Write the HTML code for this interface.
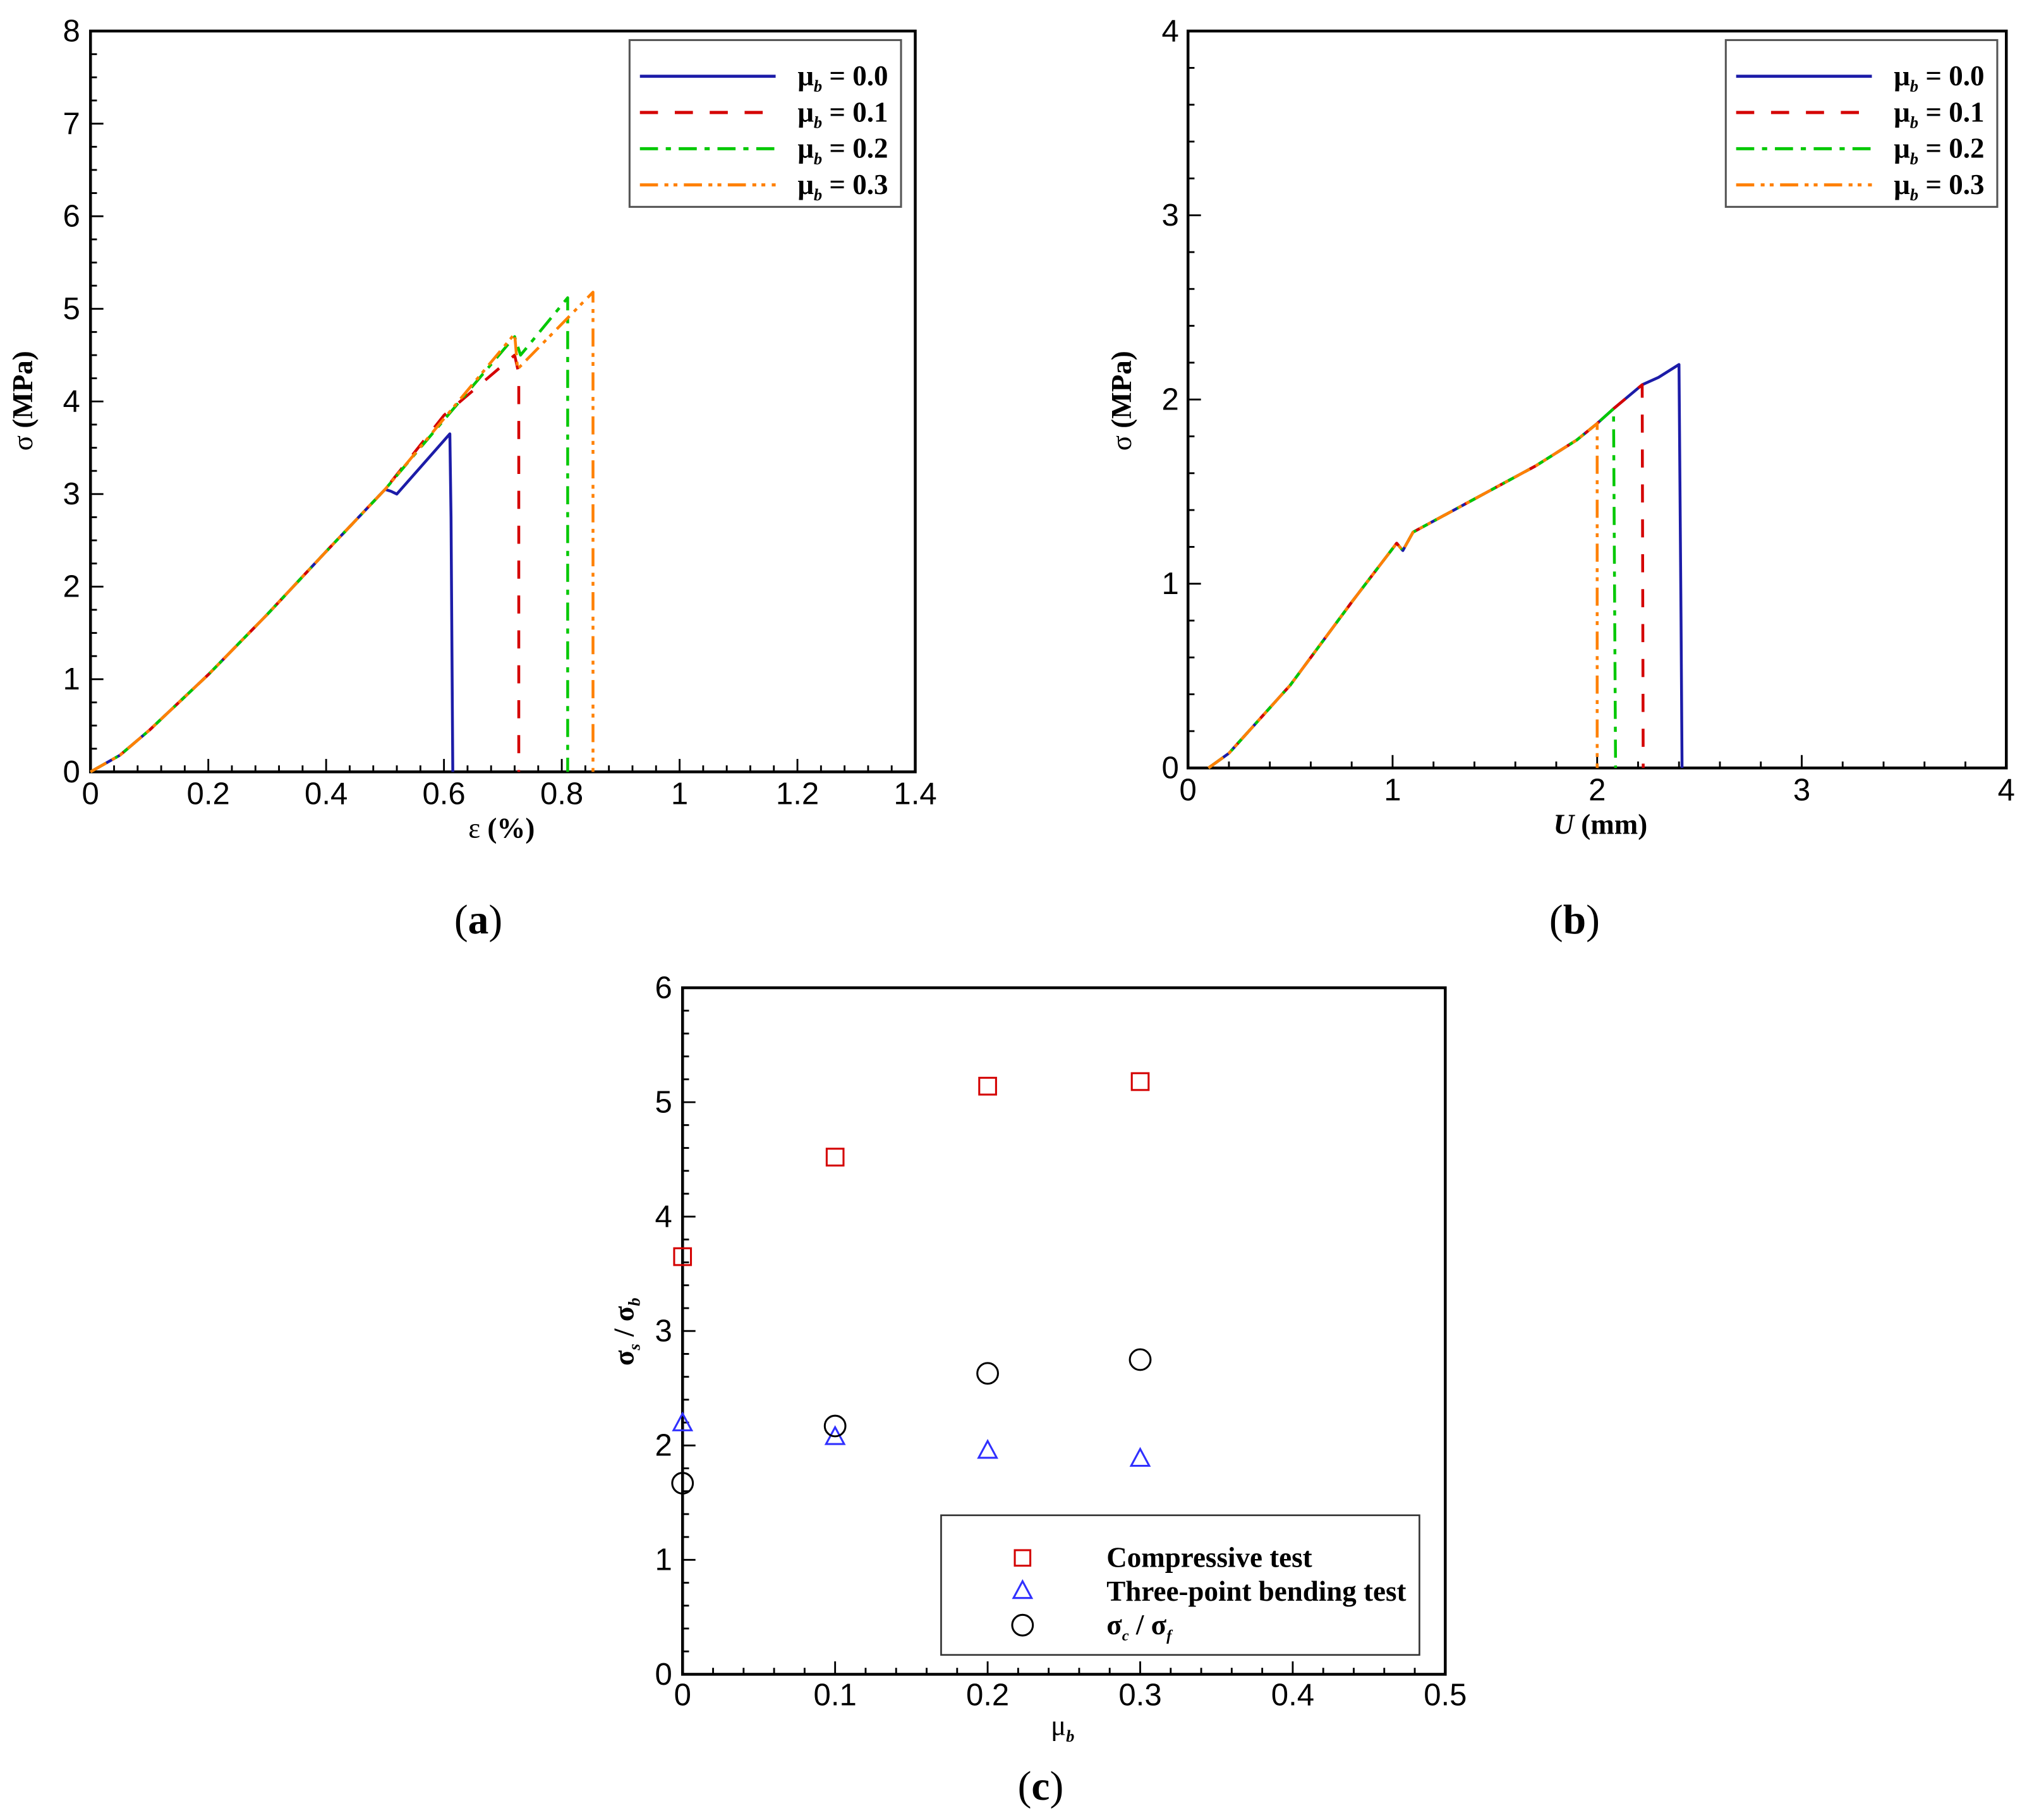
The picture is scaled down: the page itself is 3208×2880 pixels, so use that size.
<!DOCTYPE html>
<html><head><meta charset="utf-8"><style>
html,body{margin:0;padding:0;background:#fff}
svg{display:block}
.tk{font-family:"Liberation Sans",sans-serif;font-size:24px;fill:#000}
.lb{font-family:"Liberation Serif",serif;font-size:22px;font-weight:bold;fill:#000}
.cap{font-family:"Liberation Serif",serif;font-size:32px;fill:#000}
</style></head><body>
<svg id="fig" width="3208" height="2880" viewBox="0 0 1568 1407.7" preserveAspectRatio="none" xmlns="http://www.w3.org/2000/svg">
<g id="ga"></g>
<g id="gb"></g>
<g id="gc"></g>
<text class="cap" x="370" y="722" text-anchor="middle">(<tspan font-weight="bold">a</tspan>)</text>
<text class="cap" x="1218" y="722" text-anchor="middle">(<tspan font-weight="bold">b</tspan>)</text>
<text class="cap" x="805" y="1392" text-anchor="middle">(<tspan font-weight="bold">c</tspan>)</text>
</svg>
<script>
// ---- Chart (a) data: strain (%) vs stress (MPa)
const aMu0X=[0,0.05,0.1,0.2,0.3,0.4,0.5,0.51,0.52,0.61,0.612,0.615];
const aMu0Y=[0,0.18,0.45,1.05,1.7,2.38,3.05,3.03,3.0,3.65,2.75,0];
const aMu1X=[0,0.05,0.1,0.2,0.3,0.4,0.5,0.6,0.72,0.727,0.727];
const aMu1Y=[0,0.18,0.45,1.05,1.7,2.38,3.05,3.85,4.5,4.3,0];
const aMu2X=[0,0.05,0.1,0.2,0.3,0.4,0.5,0.72,0.73,0.81,0.81];
const aMu2Y=[0,0.18,0.45,1.05,1.7,2.38,3.05,4.7,4.5,5.12,0];
const aMu3X=[0,0.05,0.1,0.2,0.3,0.4,0.5,0.72,0.725,0.853,0.853];
const aMu3Y=[0,0.18,0.45,1.05,1.7,2.38,3.05,4.73,4.35,5.18,0];
const aXTicks=["0","0.2","0.4","0.6","0.8","1","1.2","1.4"];
const aYTicks=["0","1","2","3","4","5","6","7","8"];
// ---- Chart (b) data: displacement (mm) vs stress (MPa)
const bBaseX=[0.1,0.2,0.5,0.8,1.02,1.05,1.1,1.3,1.5,1.7,1.9,2.0];
const bBaseY=[0,0.08,0.45,0.9,1.22,1.18,1.28,1.4,1.52,1.64,1.78,1.87];
const bMu0X=[2.08,2.22,2.3,2.4,2.41,2.415];
const bMu0Y=[1.95,2.08,2.12,2.19,0.8,0];
const bMu1X=[2.08,2.22,2.225];
const bMu1Y=[1.95,2.08,0];
const bMu2X=[2.08,2.09];
const bMu2Y=[1.95,0];
const bMu3X=[2.0];
const bMu3Y=[0];
const bXTicks=["0","1","2","3","4"];
const bYTicks=["0","1","2","3","4"];
// ---- Chart (c) data
const cMu=[0,0.1,0.2,0.3];
const cCompressive=[3.65,4.52,5.14,5.18];
const cBending=[2.2,2.08,1.96,1.89];
const cRatio=[1.67,2.17,2.63,2.75];
const cXTicks=["0","0.1","0.2","0.3","0.4","0.5"];
const cYTicks=["0","1","2","3","4","5","6"];

const NS="http://www.w3.org/2000/svg";
function mk(p,t,a){const e=document.createElementNS(NS,t);for(const k in a)e.setAttribute(k,a[k]);p.appendChild(e);return e;}
const COL={blue:"#1c1ca8",red:"#d40000",green:"#00c800",orange:"#ff8000"};
const DASH={solid:"none",dash:"14,13",dashdot:"14,6,4,6",dashdotdot:"14,5,3,4,3,5"};

function axes(g,L,R,T,B,xmax,ymax,xt,yt,xminor,yminor,xlabY,ylabX){
  const sx=v=>L+(R-L)*v/xmax, sy=v=>B-(B-T)*v/ymax;
  const fr=mk(g,"rect",{x:L,y:T,width:R-L,height:B-T,fill:"none",stroke:"#000","stroke-width":2.2});
  
  
  const nx=xt.length-1, ny=yt.length-1;
  for(let i=0;i<=nx*xminor;i++){const v=xmax*i/(nx*xminor);const x=sx(v);const len=i%xminor==0?10:5;
    mk(g,"line",{x1:x,x2:x,y1:B,y2:B-len,stroke:"#000","stroke-width":1.4});}
  for(let i=0;i<=ny*yminor;i++){const v=ymax*i/(ny*yminor);const y=sy(v);const len=i%yminor==0?10:5;
    mk(g,"line",{x1:L,x2:L+len,y1:y,y2:y,stroke:"#000","stroke-width":1.4});}
  xt.forEach((s,i)=>{const t=mk(g,"text",{class:"tk",x:sx(xmax*i/nx),y:xlabY,"text-anchor":"middle"});t.textContent=s;
    
    });
  yt.forEach((s,i)=>{const t=mk(g,"text",{class:"tk",x:ylabX,y:sy(ymax*i/ny)+8,"text-anchor":"end"});t.textContent=s;
    
    });
  return {sx,sy};
}
function line(g,sc,xs,ys,col,dash,name){
  const pts=xs.map((x,i)=>sc.sx(x).toFixed(2)+","+sc.sy(ys[i]).toFixed(2)).join(" ");
  const p=mk(g,"polyline",{points:pts,fill:"none",stroke:col,"stroke-width":2.2,"stroke-dasharray":dash,"stroke-linejoin":"round"});
  
  
}
function legendLines(g,x0,y0){
  const bx=mk(g,"rect",{x:x0,y:y0,width:210,height:129,fill:"#fff",stroke:"#555","stroke-width":1.5});
  
  
  const items=[[COL.blue,DASH.solid,"0.0"],[COL.red,DASH.dash,"0.1"],[COL.green,DASH.dashdot,"0.2"],[COL.orange,DASH.dashdotdot,"0.3"]];
  items.forEach((it,i)=>{const y=y0+28+i*28;
    const l=mk(g,"line",{x1:x0+8,x2:x0+113,y1:y,y2:y,stroke:it[0],"stroke-width":2.4,"stroke-dasharray":it[1]});
    
    
    const t=mk(g,"text",{class:"lb",x:x0+130,y:y+7,"font-weight":"normal"});
    t.innerHTML='μ<tspan font-size="13" dy="5" font-style="italic" font-weight="bold">b</tspan><tspan dy="-5"> = </tspan><tspan font-weight="bold">'+it[2]+'</tspan>';
    
    });
}
function rotLabel(g,x,y,html,name){
  const t=mk(g,"text",{class:"lb",x:x,y:y,"text-anchor":"middle",transform:"rotate(-90 "+x+" "+y+")"});
  t.innerHTML=html;
  
  
}
function label(g,x,y,html,name){
  const t=mk(g,"text",{class:"lb",x:x,y:y,"text-anchor":"middle"});
  t.innerHTML=html;
  
  
}
// Chart a
{const g=document.getElementById("ga");
 const sc=axes(g,70,708,24,597,1.4,8,aXTicks,aYTicks,5,4,622,62);
 line(g,sc,aMu0X,aMu0Y,COL.blue,DASH.solid,"series-mu-0.0");
 line(g,sc,aMu1X,aMu1Y,COL.red,DASH.dash,"series-mu-0.1");
 line(g,sc,aMu2X,aMu2Y,COL.green,DASH.dashdot,"series-mu-0.2");
 line(g,sc,aMu3X,aMu3Y,COL.orange,DASH.dashdotdot,"series-mu-0.3");
 legendLines(g,487,31);
 rotLabel(g,25,310,'<tspan font-weight="normal">σ</tspan> (MPa)',"y-axis-title");
 label(g,388,648,'<tspan font-weight="normal">ε</tspan> (%)',"x-axis-title");}
// Chart b
{const g=document.getElementById("gb");
 const sc=axes(g,919,1552,24,594,4,4,bXTicks,bYTicks,5,5,619,912);
 const cat=(a,b)=>a.concat(b);
 line(g,sc,cat(bBaseX,bMu0X),cat(bBaseY,bMu0Y),COL.blue,DASH.solid,"series-mu-0.0");
 line(g,sc,cat(bBaseX,bMu1X),cat(bBaseY,bMu1Y),COL.red,DASH.dash,"series-mu-0.1");
 line(g,sc,cat(bBaseX,bMu2X),cat(bBaseY,bMu2Y),COL.green,DASH.dashdot,"series-mu-0.2");
 line(g,sc,cat(bBaseX,bMu3X),cat(bBaseY,bMu3Y),COL.orange,DASH.dashdotdot,"series-mu-0.3");
 legendLines(g,1335,31);
 rotLabel(g,875,310,'<tspan font-weight="normal">σ</tspan> (MPa)',"y-axis-title");
 label(g,1238,645,'<tspan font-style="italic">U</tspan> (mm)',"x-axis-title");}
// Chart c
{const g=document.getElementById("gc");
 const sc=axes(g,528,1118,764,1295,0.5,6,cXTicks,cYTicks,5,5,1319,520);
 cMu.forEach((m,i)=>{const x=sc.sx(m);
   const s=mk(g,"rect",{x:x-6.5,y:sc.sy(cCompressive[i])-6.5,width:13,height:13,fill:"none",stroke:"#d40000","stroke-width":1.5});
   
   
   const y=sc.sy(cBending[i]);
   const t=mk(g,"polygon",{points:(x-7)+","+(y+6)+" "+(x+7)+","+(y+6)+" "+x+","+(y-7),fill:"none",stroke:"#3030ff","stroke-width":1.5});
   
   
   const c=mk(g,"circle",{cx:x,cy:sc.sy(cRatio[i]),r:8,fill:"none",stroke:"#000","stroke-width":1.5});
   
   });
 const bx=mk(g,"rect",{x:728,y:1172,width:370,height:108,fill:"#fff",stroke:"#333","stroke-width":1.3});
 
 
 const ls=mk(g,"rect",{x:785,y:1199,width:12,height:12,fill:"none",stroke:"#d40000","stroke-width":1.5});
 
 
 const lt=mk(g,"polygon",{points:"784,1236 798,1236 791,1223",fill:"none",stroke:"#3030ff","stroke-width":1.5});
 
 
 const lc=mk(g,"circle",{cx:791,cy:1257,r:8,fill:"none",stroke:"#000","stroke-width":1.5});
 
 
 [["Compressive test",1212],["Three-point bending test",1238]].forEach(d=>{
   const t=mk(g,"text",{class:"lb",x:856,y:d[1],"font-size":"20"});t.textContent=d[0];
   
   });
 const t3=mk(g,"text",{class:"lb",x:856,y:1264,"font-size":"20","font-weight":"normal"});
 t3.innerHTML='σ<tspan font-size="12" dy="5" font-style="italic">c</tspan><tspan dy="-5"> / σ</tspan><tspan font-size="12" dy="5" font-style="italic">f</tspan>';
 
 
 const yt=mk(g,"text",{class:"lb",x:490,y:1030,"text-anchor":"middle","font-weight":"normal",transform:"rotate(-90 490 1030)"});
 yt.innerHTML='σ<tspan font-size="13" dy="5" font-style="italic">s</tspan><tspan dy="-5"> / σ</tspan><tspan font-size="13" dy="5" font-style="italic">b</tspan>';
 
 
 label(g,822,1342,'<tspan font-weight="normal">μ</tspan><tspan font-size="13" dy="5" font-style="italic">b</tspan>',"x-axis-title");}
</script>
</body></html>
